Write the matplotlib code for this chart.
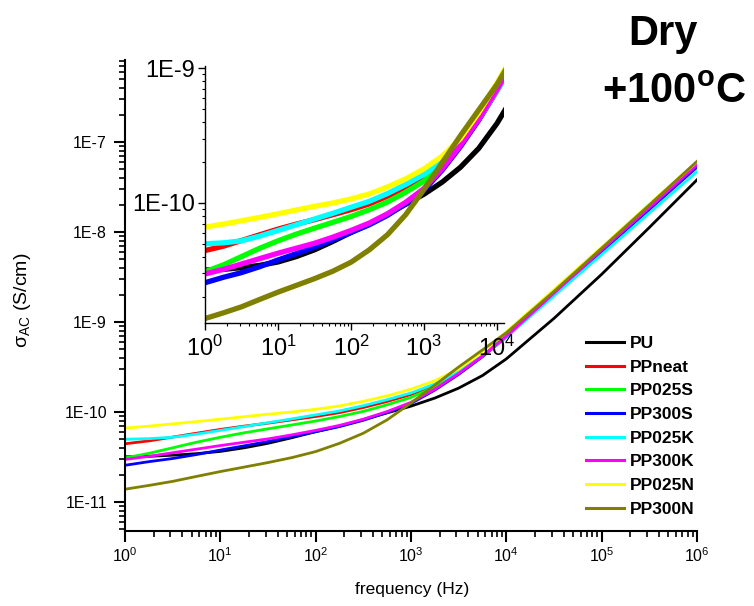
import numpy as np
import matplotlib
matplotlib.use("Agg")
import matplotlib.pyplot as plt
from matplotlib.ticker import FixedLocator, LogLocator, NullFormatter, FuncFormatter

plt.rcParams['font.family'] = ['Liberation Sans', 'DejaVu Sans']
plt.rcParams['mathtext.fontset'] = 'custom'
plt.rcParams['mathtext.rm'] = 'Liberation Sans'
plt.rcParams['mathtext.it'] = 'Liberation Sans:italic'
plt.rcParams['mathtext.bf'] = 'Liberation Sans:bold'

# Frequency sweep (Hz)
frequency = [1.0, 1.78, 3.16, 5.62, 10.0, 17.8, 31.6, 56.2, 100.0, 178.0, 316.0, 562.0,
             1.0e3, 1.78e3, 3.16e3, 5.62e3, 1.0e4, 3.16e4, 1.0e5, 3.16e5, 1.0e6]

# log10 of AC conductivity (S/cm) for each sample
log_pu = [-10.498, -10.493, -10.480, -10.463, -10.438, -10.398, -10.348, -10.286, -10.219, -10.157,
          -10.085, -10.010, -9.935, -9.845, -9.735, -9.595, -9.410, -8.960, -8.470, -7.950, -7.420]
log_ppneat = [-10.353, -10.321, -10.279, -10.236, -10.194, -10.157, -10.124, -10.087, -10.050, -10.007,
              -9.950, -9.883, -9.806, -9.701, -9.557, -9.378, -9.154, -8.680, -8.210, -7.740, -7.270]
log_pp025s = [-10.510, -10.460, -10.398, -10.336, -10.281, -10.231, -10.187, -10.144, -10.100, -10.050,
              -9.993, -9.920, -9.838, -9.721, -9.565, -9.378, -9.154, -8.680, -8.210, -7.740, -7.270]
log_pp300s = [-10.592, -10.552, -10.517, -10.473, -10.423, -10.376, -10.328, -10.274, -10.219, -10.162,
              -10.092, -10.005, -9.905, -9.756, -9.582, -9.386, -9.167, -8.690, -8.220, -7.750, -7.280]
log_pp025k = [-10.303, -10.296, -10.281, -10.246, -10.204, -10.162, -10.119, -10.077, -10.032, -9.988,
              -9.930, -9.863, -9.789, -9.689, -9.552, -9.378, -9.167, -8.710, -8.250, -7.790, -7.330]
log_pp300k = [-10.527, -10.493, -10.453, -10.413, -10.373, -10.336, -10.299, -10.254, -10.204, -10.149,
              -10.080, -9.995, -9.893, -9.746, -9.572, -9.378, -9.159, -8.680, -8.200, -7.730, -7.255]
log_pp025n = [-10.179, -10.157, -10.132, -10.107, -10.080, -10.052, -10.025, -10.000, -9.970, -9.933,
              -9.881, -9.821, -9.746, -9.652, -9.522, -9.330, -9.110, -8.640, -8.170, -7.690, -7.220]
log_pp300n = [-10.858, -10.816, -10.771, -10.716, -10.662, -10.612, -10.562, -10.507, -10.440, -10.348,
              -10.236, -10.087, -9.900, -9.700, -9.500, -9.310, -9.120, -8.660, -8.180, -7.700, -7.215]

labels = ['PU', 'PPneat', 'PP025S', 'PP300S', 'PP025K', 'PP300K', 'PP025N', 'PP300N']
colors = ['#000000', '#FF0000', '#00FF00', '#0000FF', '#00FFFF', '#FF00FF', '#FFFF00', '#808000']
series = [log_pu, log_ppneat, log_pp025s, log_pp300s, log_pp025k, log_pp300k, log_pp025n, log_pp300n]

x_ticks_main = [1e0, 1e1, 1e2, 1e3, 1e4, 1e5, 1e6]
y_ticks_main = [1e-11, 1e-10, 1e-9, 1e-8, 1e-7]
x_ticks_inset = [1e0, 1e1, 1e2, 1e3, 1e4]
y_ticks_inset = [1e-10, 1e-9]

W, H = 754, 606
fig = plt.figure(figsize=(W / 100, H / 100), dpi=100)


def sci_label(v, pos):
    return "1E%d" % int(round(np.log10(v)))


def pow_label(v, pos):
    return r"$10^{%d}$" % int(round(np.log10(v)))


def style(a, xt, yt, size, major_len, minor_len, lw):
    a.set_xscale('log')
    a.set_yscale('log')
    for s in ('top', 'right'):
        a.spines[s].set_visible(False)
    for s in ('left', 'bottom'):
        a.spines[s].set_linewidth(lw)
    a.xaxis.set_major_locator(FixedLocator(xt))
    a.yaxis.set_major_locator(FixedLocator(yt))
    a.xaxis.set_minor_locator(LogLocator(base=10, subs=np.arange(2, 10), numticks=30))
    a.yaxis.set_minor_locator(LogLocator(base=10, subs=np.arange(2, 10), numticks=30))
    a.xaxis.set_minor_formatter(NullFormatter())
    a.yaxis.set_minor_formatter(NullFormatter())
    a.xaxis.set_major_formatter(FuncFormatter(pow_label))
    a.yaxis.set_major_formatter(FuncFormatter(sci_label))
    a.tick_params(which='major', direction='out', length=major_len, width=lw,
                  labelsize=size, colors='black')
    a.tick_params(which='minor', direction='out', length=minor_len, width=lw * 0.8)


# Main axes
ax = fig.add_axes([125 / W, 1 - 531 / H, 572 / W, 471 / H])
for vals, lab, col in zip(series, labels, colors):
    ax.plot(frequency, 10 ** np.array(vals), color=col, lw=2.0, label=lab,
            solid_joinstyle='round')
ax.set_xlim(1, 1e6)
ax.set_ylim(4.76e-12, 8.15e-7)
style(ax, x_ticks_main, y_ticks_main, 11.5, 8, 4, 1.5)
ax.tick_params(axis='x', which='major', pad=3)
ax.tick_params(axis='y', which='major', pad=5)
ax.set_xlabel('frequency (Hz)', fontsize=12.5)
ax.xaxis.set_label_coords(0.502, -0.108)
ax.set_ylabel(r'$\mathrm{\sigma}_{\mathrm{AC}}$ (S/cm)', fontsize=14)
ax.yaxis.set_label_coords(-0.161, 0.49)

leg = ax.legend(loc='upper left', bbox_to_anchor=(586 / W, 1 - 336 / H),
                bbox_transform=fig.transFigure, frameon=False,
                prop={'weight': 'bold', 'size': 12.5}, handlelength=2.2,
                handletextpad=0.35, labelspacing=0.49, borderpad=0, borderaxespad=0)
for ln in leg.get_lines():
    ln.set_linewidth(2.2)

# Inset: low-frequency detail
axi = fig.add_axes([205 / W, 1 - 323 / H, 299 / W, 257 / H])
for vals, col in zip(series, colors):
    axi.plot(frequency, 10 ** np.array(vals), color=col, lw=3.8, solid_joinstyle='round')
axi.set_xlim(1, 1.25e4)
axi.set_ylim(1.285e-11, 1.04e-9)
style(axi, x_ticks_inset, y_ticks_inset, 17, 5, 2.5, 1.0)
axi.tick_params(axis='x', which='major', pad=4)
axi.tick_params(axis='y', which='major', pad=2)

# Condition annotation
fig.text(663 / W, 1 - 45 / H, 'Dry', fontsize=30, fontweight='bold',
         ha='center', va='baseline')
fig.text(674 / W, 1 - 103 / H, r'+100$^{\mathbf{o}}$C', fontsize=30, fontweight='bold',
         ha='center', va='baseline')

fig.savefig('out.png', dpi=100)
